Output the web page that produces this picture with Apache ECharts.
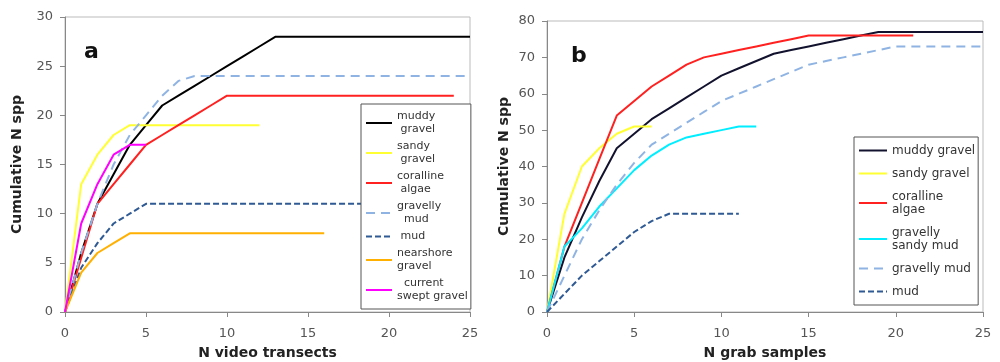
<!DOCTYPE html>
<html>
<head>
<meta charset="utf-8">
<script src="https://cdn.jsdelivr.net/npm/echarts@6/dist/echarts.min.js"></script>
<style>
  html, body {margin: 0; padding: 0; background: #fff;}
  #chart {width: 1000px; height: 362px;}
</style>
</head>
<body>
<div id="chart"></div>
<script>
// panel a: cumulative species vs number of video transects (index = N transects)
const aMuddyGravel = [0, 6, 11, 14, 17, 19, 21, 22, 23, 24, 25, 26, 27, 28, 28, 28, 28, 28, 28, 28, 28, 28, 28, 28, 28, 28]
const aSandyGravel = [0, 13, 16, 18, 19, 19, 19, 19, 19, 19, 19, 19, 19]
const aCoralline = [0, 5.5, 11, 13, 15, 17, 18, 19, 20, 21, 22, 22, 22, 22, 22, 22, 22, 22, 22, 22, 22, 22, 22, 22, 22]
const aGravellyMud = [0, 6, 11, 15, 18, 20, 22, 23.5, 24, 24, 24, 24, 24, 24, 24, 24, 24, 24, 24, 24, 24, 24, 24, 24, 24, 24]
const aMud = [0, 4.5, 7, 9, 10, 11, 11, 11, 11, 11, 11, 11, 11, 11, 11, 11, 11, 11, 11, 11]
const aNearshore = [0, 4, 6, 7, 8, 8, 8, 8, 8, 8, 8, 8, 8, 8, 8, 8, 8]
const aCurrentSwept = [0, 9, 13, 16, 17, 17]

// panel b: cumulative species vs number of grab samples
const bMuddyGravel = [0, 15, 26, 36, 45, 49, 53, 56, 59, 62, 65, 67, 69, 71, 72, 73, 74, 75, 76, 77, 77, 77, 77, 77, 77, 77]
const bSandyGravel = [0, 27, 40, 45, 49, 51, 51]
const bCoralline = [0, 18, 30, 42, 54, 58, 62, 65, 68, 70, 71, 72, 73, 74, 75, 76, 76, 76, 76, 76, 76, 76]
const bGravellySandyMud = [0, 18, 23, 29, 34, 39, 43, 46, 48, 49, 50, 51, 51]
const bGravellyMud = [0, 10, 20, 28, 35, 41, 46, 49, 52, 55, 58, 60, 62, 64, 66, 68, 69, 70, 71, 72, 73, 73, 73, 73, 73, 73]
const bMud = [0, 5, 10, 14, 18, 22, 25, 27, 27, 27, 27, 27]

const legendTextA = {
  'muddy gravel': 'muddy\n gravel',
  'sandy gravel': 'sandy\n gravel',
  'coralline algae': 'coralline\n algae',
  'gravelly mud': 'gravelly\n  mud',
  'mud': ' mud',
  'nearshore gravel': 'nearshore\ngravel',
  'current swept gravel': '  current\nswept gravel'
}
const legendTextB = {
  'muddy gravel': 'muddy gravel',
  'sandy gravel': 'sandy gravel',
  'coralline algae': 'coralline\nalgae',
  'gravelly sandy mud': 'gravelly\nsandy mud',
  'gravelly mud': 'gravelly mud',
  'mud': 'mud'
}

const pts = arr => arr.map((v, i) => [i, v])
const font = 'DejaVu Sans'

const line = (name, data, color, gi, dash) => ({
  name,
  type: 'line',
  xAxisIndex: gi,
  yAxisIndex: gi,
  data: pts(data),
  symbol: 'none',
  color,
  lineStyle: {color, width: 2, type: dash || 'solid'},
  animation: false
})

const xAxis = (gi, name) => ({
  gridIndex: gi,
  type: 'value',
  min: 0, max: 25, interval: 5,
  name,
  nameLocation: 'middle',
  nameGap: 34,
  nameTextStyle: {fontFamily: font, fontWeight: 'bold', fontSize: 14, color: '#222'},
  axisLine: {lineStyle: {color: '#888'}},
  axisTick: {show: true, length: 5, lineStyle: {color: '#888'}},
  axisLabel: {fontFamily: font, fontSize: 13, color: '#555', margin: 15},
  splitLine: {show: false}
})

const yAxis = (gi, max, interval, gap) => ({
  gridIndex: gi,
  type: 'value',
  min: 0, max, interval,
  name: 'Cumulative N spp',
  nameLocation: 'middle',
  nameGap: gap,
  nameTextStyle: {fontFamily: font, fontWeight: 'bold', fontSize: 14, color: '#222'},
  axisLine: {show: true, lineStyle: {color: '#888'}},
  axisTick: {show: true, length: 5, lineStyle: {color: '#888'}},
  axisLabel: {fontFamily: font, fontSize: 13, color: '#555', margin: 12},
  splitLine: {show: false}
})

const legendBase = {
  orient: 'vertical',
  backgroundColor: '#fff',
  borderColor: '#555',
  borderWidth: 1,
  itemWidth: 28,
  itemHeight: 10,
  itemStyle: {opacity: 0},
  textStyle: {fontFamily: font, fontSize: 12, color: '#333', lineHeight: 13},
  z: 10
}

const chart = echarts.init(document.getElementById('chart'), null, {renderer: 'canvas'})
chart.setOption({
  animation: false,
  backgroundColor: '#fff',
  title: [
    {text: 'a', left: 79, top: 36, textStyle: {fontFamily: font, fontSize: 22, fontWeight: 'bold', color: '#111'}},
    {text: 'b', left: 566, top: 40, textStyle: {fontFamily: font, fontSize: 22, fontWeight: 'bold', color: '#111'}}
  ],
  grid: [
    {left: 65, top: 17, width: 405, height: 295, show: true, borderColor: '#bbb', borderWidth: 1, outerBoundsMode: 'none'},
    {left: 547, top: 21, width: 436, height: 291, show: true, borderColor: '#bbb', borderWidth: 1, outerBoundsMode: 'none'}
  ],
  xAxis: [xAxis(0, 'N video transects'), xAxis(1, 'N grab samples')],
  yAxis: [yAxis(0, 30, 5, 41), yAxis(1, 80, 10, 36)],
  legend: [
    Object.assign({}, legendBase, {
      left: 361, top: 104,
      padding: [6, 3, 6, 4],
      itemGap: 4,
      itemWidth: 26,
      textStyle: {fontFamily: font, fontSize: 11, color: '#333', lineHeight: 13},
      data: ['muddy gravel', 'sandy gravel', 'coralline algae', 'gravelly mud', 'mud', 'nearshore gravel', 'current swept gravel'],
      formatter: n => legendTextA[n]
    }),
    Object.assign({}, legendBase, {
      left: 854, top: 137,
      padding: [7, 3, 7, 4],
      itemGap: 10,
      data: ['muddy gravel', 'sandy gravel', 'coralline algae', 'gravelly sandy mud', 'gravelly mud', 'mud'].map(n => n + ' '),
      formatter: n => legendTextB[n.trim()]
    })
  ],
  series: [
    line('muddy gravel', aMuddyGravel, '#000000', 0),
    line('sandy gravel', aSandyGravel, '#ffff33', 0),
    line('coralline algae', aCoralline, '#ff2020', 0),
    line('gravelly mud', aGravellyMud, '#8fb4e3', 0, [9, 6]),
    line('mud', aMud, '#2f5a94', 0, [6, 3]),
    line('nearshore gravel', aNearshore, '#ffb000', 0),
    line('current swept gravel', aCurrentSwept, '#ff00ff', 0),
    line('muddy gravel ', bMuddyGravel, '#12122e', 1),
    line('sandy gravel ', bSandyGravel, '#ffff33', 1),
    line('coralline algae ', bCoralline, '#ff2020', 1),
    line('gravelly sandy mud ', bGravellySandyMud, '#00eeff', 1),
    line('gravelly mud ', bGravellyMud, '#8fb4e3', 1, [9, 6]),
    line('mud ', bMud, '#2f5a94', 1, [6, 3])
  ]
})
</script>
</body>
</html>
